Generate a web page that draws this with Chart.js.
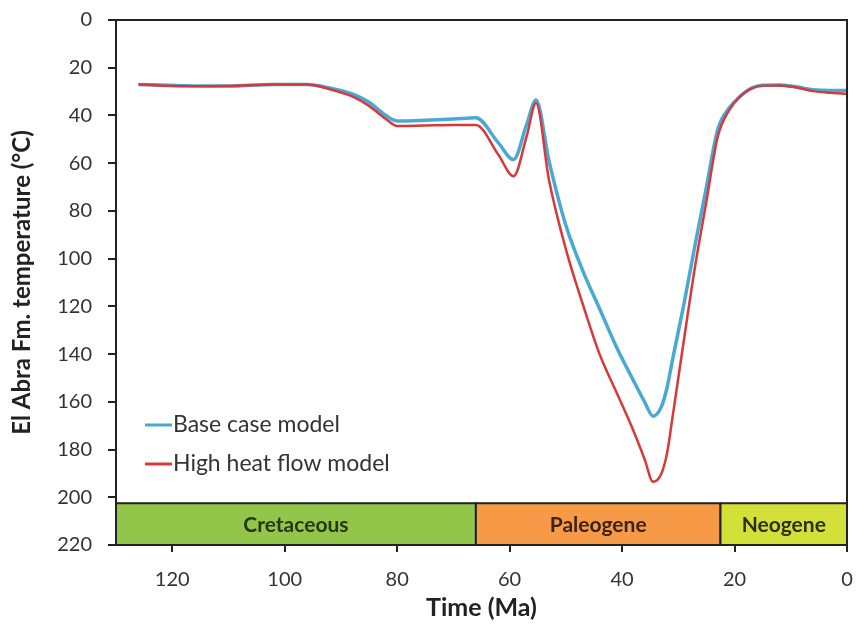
<!DOCTYPE html>
<html>
<head>
<meta charset="utf-8">
<script src="https://cdn.jsdelivr.net/npm/chart.js@4.4.0/dist/chart.umd.min.js"></script>
<style>
  html, body { margin: 0; padding: 0; background: #fff; }
  #wrap { width: 856px; height: 628px; }
</style>
</head>
<body>
<div id="wrap"><canvas id="chartTemp"></canvas></div>
<script>
Chart.defaults.font.family = 'Lato';

// idades (Ma)
const idades = [126, 118, 110, 102, 96, 92, 88, 85, 82, 80, 75, 70, 66, 62, 59.3, 57, 55.3, 53, 50, 47,
    44, 41, 38, 36, 34.5, 33, 32, 31, 29, 27, 25, 23, 21, 19, 17, 15, 12, 9, 6, 3, 0];

const baseCase = [27, 27.5, 27.7, 27, 27, 28.5, 31, 34.5, 40, 42.3, 42, 41.5, 41, 51.5, 58.5, 44, 33.5, 59, 86, 105,
    121, 137, 151, 160, 166, 162, 154, 142, 119, 94, 70, 46, 37, 32, 28.5, 27.3, 27.2, 28, 29.2, 29.5, 29.5];

const highHeat = [27, 27.8, 27.7, 27, 27, 29, 32, 36, 41.5, 44.4, 44.2, 44, 44, 56.5, 65.5, 49, 34.8, 67, 96, 119,
    140, 156, 172, 184, 193.5, 190, 181.5, 166, 134, 103, 76, 49, 38, 32, 28.8, 27.5, 27.4, 28.3, 29.8, 30.5, 31];

// periodos geologicos
const periodos = ['Cretaceous', 'Paleogene', 'Neogene'];
const periodoInicio = [130, 66, 22.5];
const periodoFim = [66, 22.5, 0];
const periodoCor = ['#92c64a', '#f79a48', '#d3e03a'];
const periodoTexto = ['#26380e', '#3d2410', '#2e3008'];

const serie = (vals) => idades.map((a, i) => ({ x: a, y: vals[i] }));

// faixa dos periodos + moldura
const periodBands = {
    id: 'periodBands',
    beforeDatasetsDraw(chart) {
        const { ctx, scales: { x, y } } = chart;
        const top = y.getPixelForValue(202.5);
        const bottom = y.getPixelForValue(220);
        ctx.save();
        periodos.forEach((nome, i) => {
            const l = x.getPixelForValue(periodoInicio[i]);
            const r = x.getPixelForValue(periodoFim[i]);
            ctx.fillStyle = periodoCor[i];
            ctx.fillRect(l, top, r - l, bottom - top);
            ctx.strokeStyle = '#222';
            ctx.lineWidth = 2;
            ctx.strokeRect(l, top, r - l, bottom - top);
            ctx.fillStyle = periodoTexto[i];
            ctx.font = 'bold 21px Lato';
            ctx.textAlign = 'center';
            ctx.textBaseline = 'middle';
            ctx.fillText(nome, (l + r) / 2, (top + bottom) / 2 + 1);
        });
        ctx.restore();
    },
    afterDraw(chart) {
        const { ctx, chartArea: { top, right, bottom, left } } = chart;
        ctx.save();
        ctx.strokeStyle = '#222';
        ctx.lineWidth = 2;
        ctx.beginPath();
        ctx.moveTo(left, top);
        ctx.lineTo(right, top);
        ctx.lineTo(right, bottom);
        ctx.stroke();

        // legenda
        ctx.font = '23px Lato';
        ctx.textBaseline = 'middle';
        ctx.textAlign = 'left';
        chart.data.datasets.forEach((ds, i) => {
            const ly = 425 + i * 39;
            ctx.strokeStyle = ds.borderColor;
            ctx.lineWidth = 3;
            ctx.beginPath();
            ctx.moveTo(145, ly);
            ctx.lineTo(172, ly);
            ctx.stroke();
            ctx.fillStyle = '#333';
            ctx.fillText(ds.label, 173, ly);
        });
        ctx.restore();
    }
};

new Chart(document.getElementById('chartTemp'), {
    type: 'line',
    data: {
        datasets: [
            {
                label: 'Base case model',
                data: serie(baseCase),
                borderColor: '#4aa9d2',
                borderWidth: 3.5,
                pointRadius: 0,
                cubicInterpolationMode: 'monotone',
                order: 1
            },
            {
                label: 'High heat flow model',
                data: serie(highHeat),
                borderColor: '#d9383a',
                borderWidth: 2.5,
                pointRadius: 0,
                cubicInterpolationMode: 'monotone',
                order: 0
            }
        ]
    },
    options: {
        responsive: true,
        maintainAspectRatio: false,
        animation: false,
        layout: { padding: { top: 20, right: 9, left: 0, bottom: 0 } },
        plugins: {
            legend: { display: false },
            tooltip: { enabled: false }
        },
        scales: {
            x: {
                type: 'linear',
                reverse: true,
                min: 0,
                max: 130,
                afterBuildTicks(scale) {
                    scale.ticks = [120, 100, 80, 60, 40, 20, 0].map(v => ({ value: v }));
                },
                afterFit(scale) {
                    scale.height = 83;
                    scale.paddingLeft = 0;
                    scale.paddingRight = 0;
                },
                grid: { drawOnChartArea: false, color: '#222', tickLength: 7, lineWidth: 2 },
                border: { color: '#222', width: 2 },
                ticks: { color: '#333', font: { size: 20 }, padding: 16, maxRotation: 0 },
                title: { display: true, text: 'Time (Ma)', color: '#222', font: { size: 25, weight: 'bold' }, padding: { top: 0, bottom: 5 } }
            },
            y: {
                reverse: true,
                min: 0,
                max: 220,
                afterFit(scale) {
                    scale.width = 116;
                    scale.paddingTop = 0;
                    scale.paddingBottom = 0;
                },
                grid: { drawOnChartArea: false, color: '#222', tickLength: 8, lineWidth: 2 },
                border: { color: '#222', width: 2 },
                ticks: { stepSize: 20, color: '#333', font: { size: 20 }, padding: 16 },
                title: { display: true, text: 'El Abra Fm. temperature (°C)', color: '#222', font: { size: 24, weight: 'bold' }, padding: { bottom: 0, top: 8 } }
            }
        }
    },
    plugins: [periodBands]
});
</script>
</body>
</html>
